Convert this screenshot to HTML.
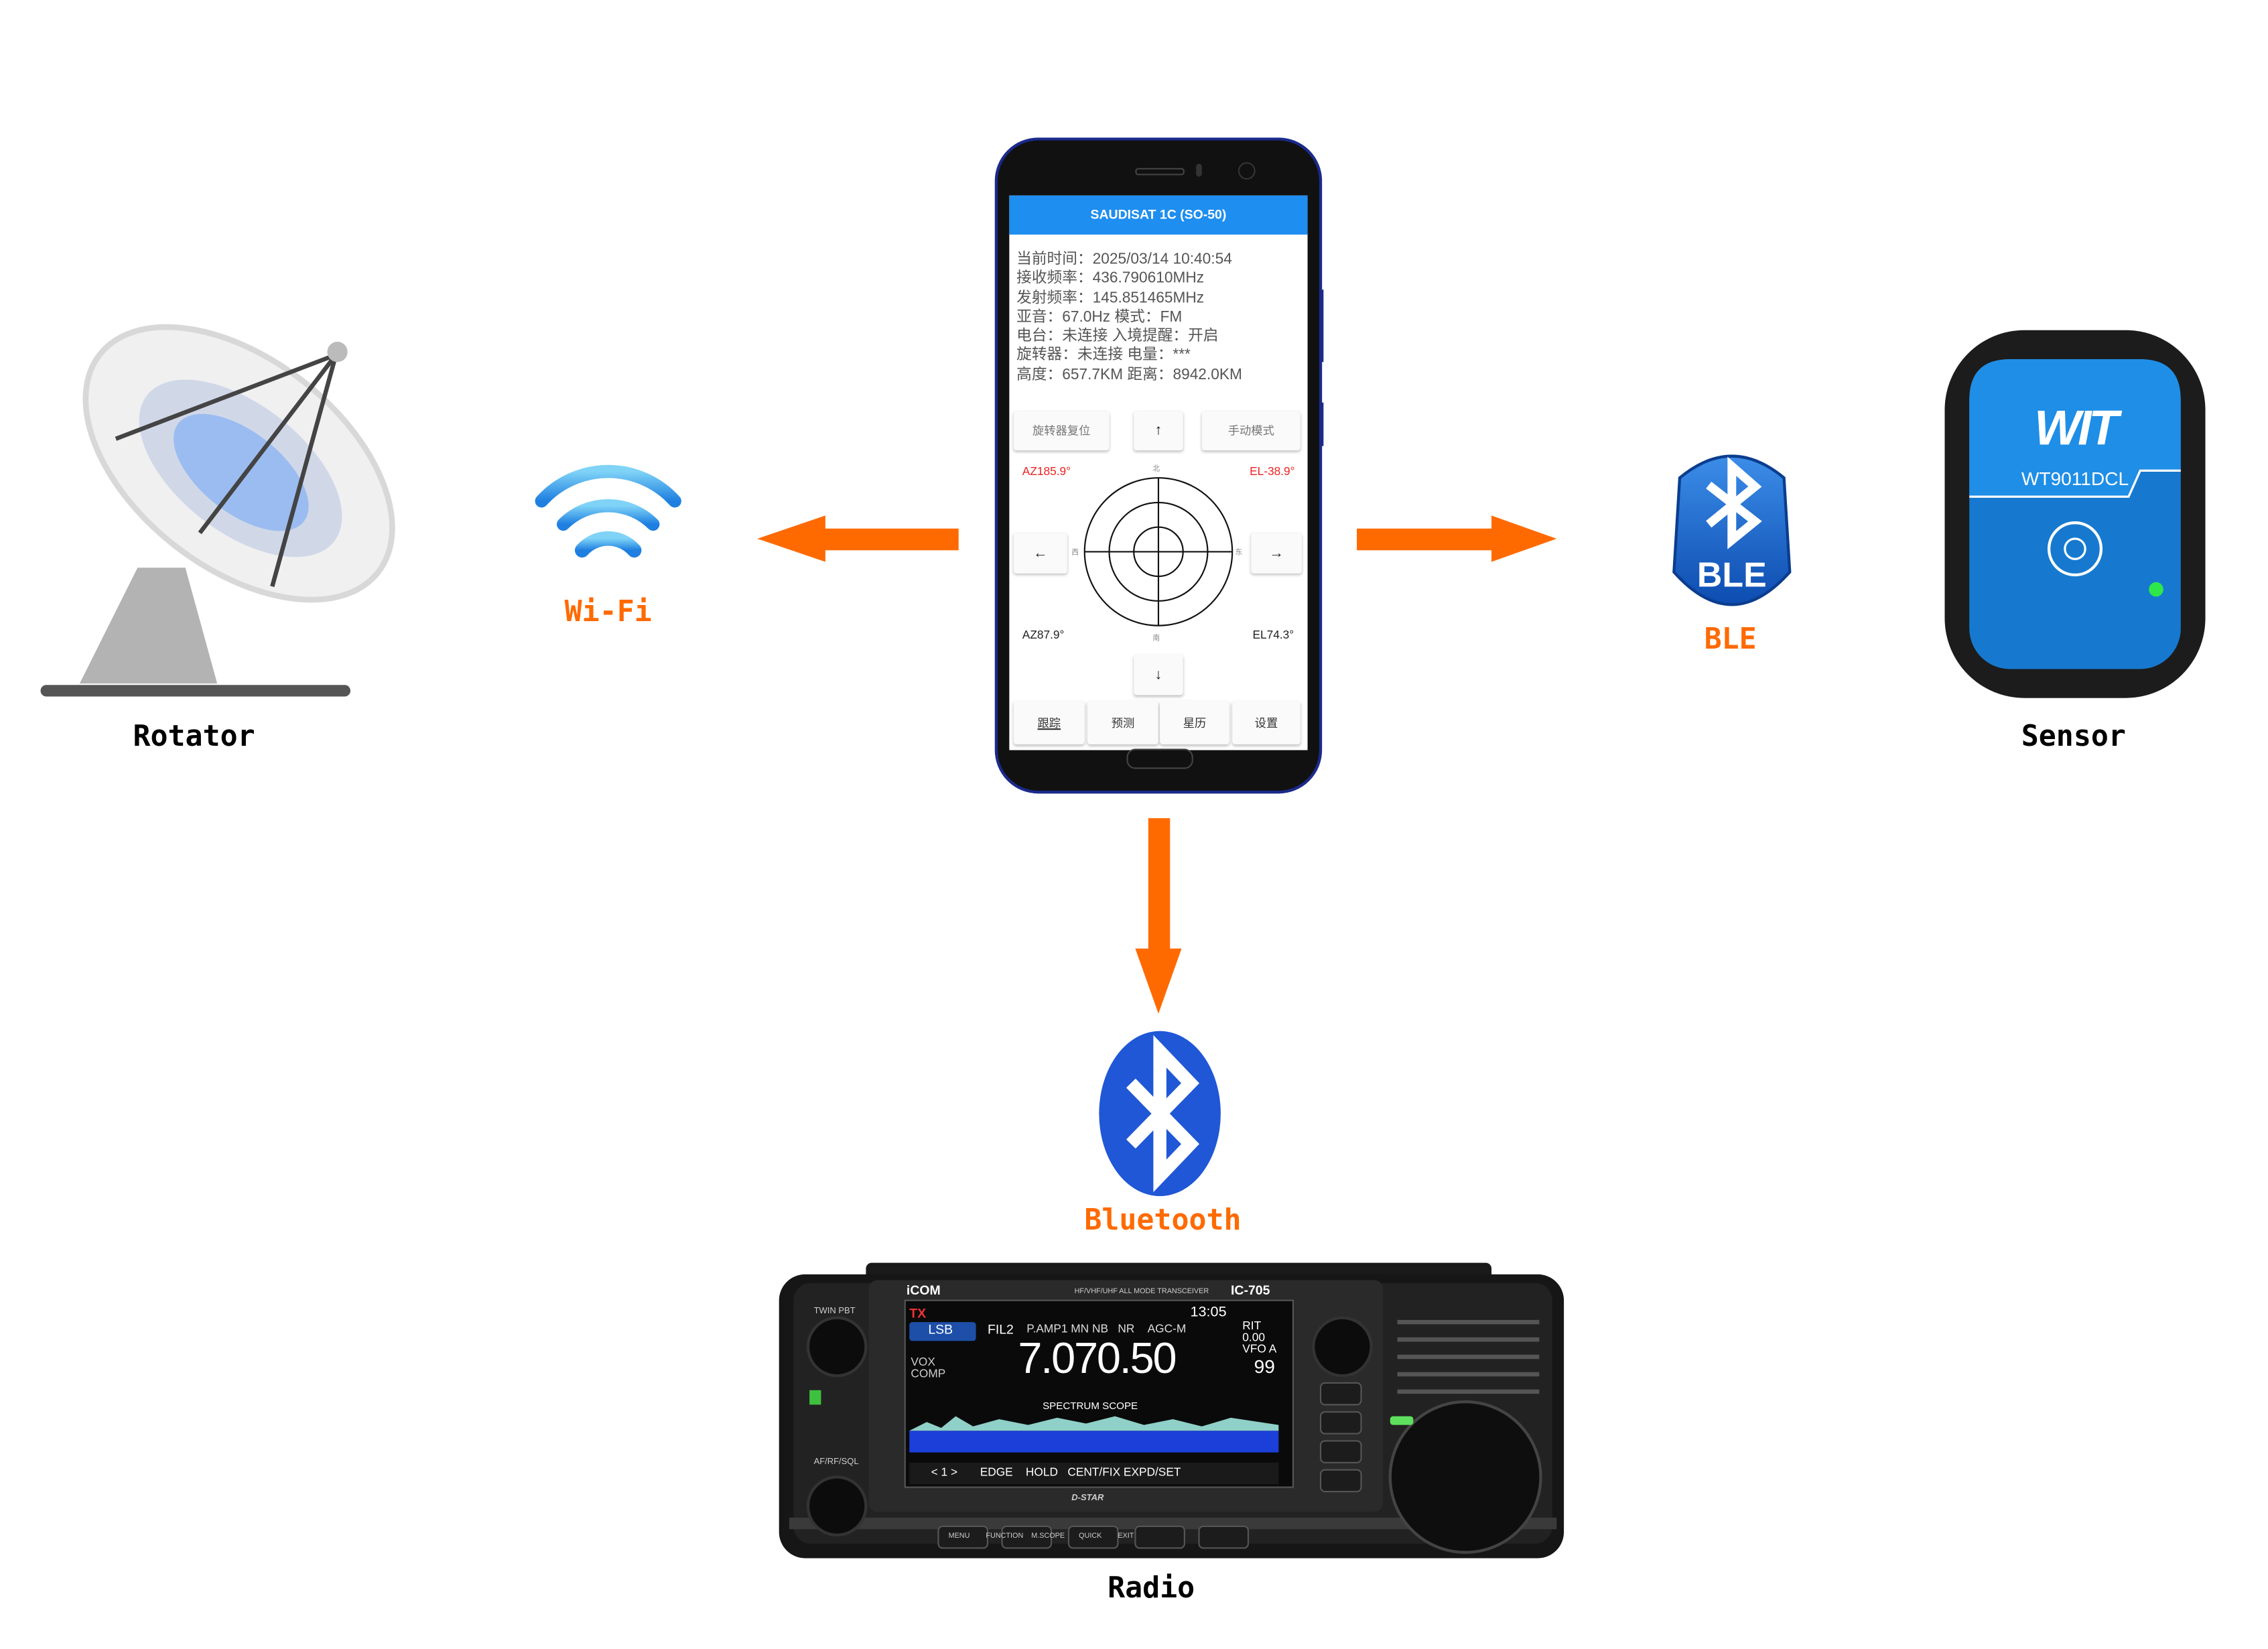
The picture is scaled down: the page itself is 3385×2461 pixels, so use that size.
<!DOCTYPE html>
<html><head><meta charset="utf-8">
<style>
html,body{margin:0;padding:0;background:#fff;}
#wrap{width:3385px;height:2461px;overflow:hidden;position:relative;background:#fff;}
#s{position:absolute;left:0;top:0;width:1570px;height:1140px;transform:scale(2.1612);transform-origin:0 0;}
.t{position:absolute;white-space:nowrap;font-family:"Liberation Sans","Noto Sans CJK SC",sans-serif;}
.m{font-family:"DejaVu Sans Mono","Liberation Mono",monospace;font-size:20px;font-weight:bold;}
.btn{position:absolute;background:#fafafa;box-shadow:0 1px 2px rgba(0,0,0,.25);border-radius:2px;font-size:8px;color:#777;display:flex;align-items:center;justify-content:center;font-family:"Liberation Sans","Noto Sans CJK SC",sans-serif;}
</style></head><body><div id="wrap"><div id="s">

<svg width="1550" height="1127" style="position:absolute;left:0;top:0">
 <g fill="#ff6a00">
  <rect x="566" y="365" width="96" height="15"/>
  <polygon points="523,372 570,356 570,388"/>
  <rect x="937" y="365" width="96" height="15"/>
  <polygon points="1075,372 1030,356 1030,388"/>
  <rect x="793" y="565" width="15" height="94"/>
  <polygon points="800,700 784,655 816,655"/>
 </g>
 <defs><linearGradient id="wg" x1="0" y1="0" x2="0" y2="1"><stop offset="0" stop-color="#7fd3f7"/><stop offset="1" stop-color="#1e7fe0"/></linearGradient>
 <linearGradient id="bg1" x1="0" y1="0" x2="0" y2="1"><stop offset="0" stop-color="#3b8de8"/><stop offset="1" stop-color="#0d4cb0"/></linearGradient></defs>
 <g fill="none" stroke="url(#wg)" stroke-linecap="round">
  <path d="M374 346 A62 62 0 0 1 466 346" stroke-width="9"/>
  <path d="M389 362 A44 44 0 0 1 451 362" stroke-width="9"/>
  <path d="M402 380 A24 24 0 0 1 438 380" stroke-width="10"/>
 </g>
 <polygon points="95,392 128,392 150,472 55,472" fill="#b3b3b3"/>
 <rect x="28" y="473" width="214" height="8" rx="4" fill="#555"/>
 <g transform="rotate(38 165 320)">
  <ellipse cx="165" cy="320" rx="122" ry="72" fill="#f0f0f0" stroke="#d8d8d8" stroke-width="4"/>
  <ellipse cx="168" cy="322" rx="82" ry="44" fill="#d0d8e8"/>
  <ellipse cx="170" cy="324" rx="55" ry="28" fill="#9bbcf0"/>
 </g>
 <g stroke="#444" stroke-width="3" fill="none">
  <line x1="80" y1="303" x2="232" y2="245"/>
  <line x1="138" y1="368" x2="232" y2="245"/>
  <line x1="188" y1="405" x2="232" y2="245"/>
 </g>
 <circle cx="233" cy="243" r="7" fill="#bbb"/>
 <path d="M1160 330 Q1196 300 1232 330 L1236 395 Q1196 440 1156 395 Z" fill="url(#bg1)" stroke="#0b3d8f" stroke-width="2"/>
 <path d="M1180 335 L1212 360 L1196 373 L1196 322 L1212 336 L1180 362" fill="none" stroke="#fff" stroke-width="6"/>
 <ellipse cx="801" cy="769" rx="42" ry="57" fill="#1f57d6"/>
 <path d="M781 748 L822 790 L801 812 L801 726 L822 748 L781 790" fill="none" stroke="#fff" stroke-width="9"/>
 <rect x="1343" y="228" width="180" height="254" rx="55" fill="#1c1c1c"/>
 <rect x="1360" y="248" width="146" height="214" rx="28" fill="#1679cf"/>
 <path d="M1388 248 L1478 248 Q1506 248 1506 276 L1506 325 L1478 325 L1470 343 L1360 343 L1360 276 Q1360 248 1388 248 Z" fill="#1f8ee6"/>
 <path d="M1360 343 L1470 343 L1478 325 L1506 325" fill="none" stroke="#fff" stroke-width="1.5"/>
 <circle cx="1433" cy="379" r="18" fill="none" stroke="#fff" stroke-width="2"/>
 <circle cx="1433" cy="379" r="7" fill="none" stroke="#fff" stroke-width="1.5"/>
 <circle cx="1489" cy="407" r="5" fill="#2ee84a"/>
 <rect x="598" y="872" width="432" height="20" rx="4" fill="#1a1a1a"/>
 <rect x="538" y="880" width="542" height="196" rx="18" fill="#161616"/>
 <rect x="548" y="886" width="524" height="180" rx="12" fill="#222"/>
 <rect x="600" y="884" width="355" height="160" rx="6" fill="#2a2a2a"/>
 <rect x="625" y="898" width="268" height="129" fill="#0a0a0a" stroke="#555"/>
 <rect x="628" y="913" width="46" height="13" rx="2" fill="#1d4fa8"/>
 <rect x="628" y="988" width="255" height="15" fill="#1b3fd8"/>
 <path d="M628 988 L640 982 L650 986 L660 978 L672 985 L690 980 L710 984 L730 979 L750 983 L770 978 L790 984 L810 980 L830 985 L850 979 L883 984 L883 988 Z" fill="#8fd0c8"/>
 <rect x="628" y="1010" width="255" height="15" fill="#1a1a1a"/>
 <rect x="545" y="1048" width="530" height="8" fill="#3a3a3a"/>
 <circle cx="578" cy="930" r="20" fill="#0c0c0c" stroke="#333" stroke-width="2"/>
 <circle cx="578" cy="1040" r="20" fill="#0c0c0c" stroke="#333" stroke-width="2"/>
 <circle cx="927" cy="930" r="20" fill="#0c0c0c" stroke="#333" stroke-width="2"/>
 <circle cx="1012" cy="1020" r="52" fill="#0e0e0e" stroke="#444" stroke-width="2"/>
 <g stroke="#555" stroke-width="3">
  <line x1="965" y1="913" x2="1063" y2="913"/><line x1="965" y1="925" x2="1063" y2="925"/><line x1="965" y1="937" x2="1063" y2="937"/><line x1="965" y1="949" x2="1063" y2="949"/><line x1="965" y1="961" x2="1063" y2="961"/>
 </g>
 <g fill="#1c1c1c" stroke="#555">
  <rect x="648" y="1054" width="34" height="15" rx="3"/><rect x="692" y="1054" width="34" height="15" rx="3"/><rect x="738" y="1054" width="34" height="15" rx="3"/><rect x="784" y="1054" width="34" height="15" rx="3"/><rect x="828" y="1054" width="34" height="15" rx="3"/>
  <rect x="912" y="955" width="28" height="15" rx="3"/><rect x="912" y="975" width="28" height="15" rx="3"/><rect x="912" y="995" width="28" height="15" rx="3"/><rect x="912" y="1015" width="28" height="15" rx="3"/>
 </g>
 <rect x="960" y="978" width="16" height="6" rx="2" fill="#5ee05e"/>
 <rect x="559" y="960" width="8" height="10" fill="#3fc03f"/>
</svg>

<div class="t" style="left:626px;top:886px;font-size:9px;color:#fff;font-weight:bold">iCOM</div>
<div class="t" style="left:742px;top:889px;font-size:5px;color:#ccc">HF/VHF/UHF ALL MODE TRANSCEIVER</div>
<div class="t" style="left:850px;top:886px;font-size:9px;color:#fff;font-weight:bold">IC-705</div>
<div class="t" style="left:628px;top:902px;font-size:9px;color:#e33;font-weight:bold">TX</div>
<div class="t" style="left:822px;top:901px;font-size:10px;color:#fff">13:05</div>
<div class="t" style="left:641px;top:913px;font-size:9px;color:#fff">LSB</div>
<div class="t" style="left:682px;top:913px;font-size:9px;color:#fff">FIL2</div>
<div class="t" style="left:709px;top:913px;font-size:8px;color:#ddd">P.AMP1 MN NB &nbsp;&nbsp;NR &nbsp;&nbsp;&nbsp;AGC-M</div>
<div class="t" style="left:858px;top:912px;font-size:8px;color:#fff;line-height:8px">RIT<br>0.00<br>VFO A</div>
<div class="t" style="left:703px;top:922px;font-size:30px;color:#fff;letter-spacing:-1px">7.070.50</div>
<div class="t" style="left:866px;top:936px;font-size:13px;color:#fff">99</div>
<div class="t" style="left:629px;top:937px;font-size:8px;color:#ccc;line-height:8px">VOX<br>COMP</div>
<div class="t" style="left:720px;top:968px;font-size:7px;color:#fff">SPECTRUM SCOPE</div>
<div class="t" style="left:643px;top:1012px;font-size:8px;color:#fff">&lt; 1 &gt; &nbsp;&nbsp;&nbsp;&nbsp;&nbsp;&nbsp;EDGE &nbsp;&nbsp;&nbsp;HOLD &nbsp;&nbsp;CENT/FIX EXPD/SET</div>
<div class="t" style="left:740px;top:1032px;font-size:6px;color:#ccc;font-weight:bold;font-style:italic">D-STAR</div>
<div class="t" style="left:562px;top:903px;font-size:6px;color:#ccc">TWIN PBT</div>
<div class="t" style="left:562px;top:1007px;font-size:6px;color:#ccc">AF/RF/SQL</div>
<div class="t" style="left:655px;top:1058px;font-size:5px;color:#ccc">MENU &nbsp;&nbsp;&nbsp;&nbsp;&nbsp;&nbsp;&nbsp;FUNCTION &nbsp;&nbsp;&nbsp;M.SCOPE &nbsp;&nbsp;&nbsp;&nbsp;&nbsp;&nbsp;QUICK &nbsp;&nbsp;&nbsp;&nbsp;&nbsp;&nbsp;&nbsp;EXIT</div>

<div style="position:absolute;left:687px;top:95px;width:222px;height:449px;border-radius:30px;background:#111;border:2px solid #1b2a8a;"></div>
<div style="position:absolute;left:784px;top:116px;width:32px;height:3px;border-radius:2px;border:1px solid #444;"></div>
<div style="position:absolute;left:826px;top:113px;width:4px;height:9px;border-radius:2px;background:#333;"></div>
<div style="position:absolute;left:855px;top:112px;width:10px;height:10px;border-radius:50%;border:1px solid #333;"></div>
<div style="position:absolute;left:697px;top:135px;width:206px;height:383px;background:#fff;"></div>
<div style="position:absolute;left:697px;top:135px;width:206px;height:27px;background:#1e8ef0;"></div>
<div class="t" style="left:697px;top:143px;width:206px;text-align:center;font-size:9px;color:#fff;font-weight:bold">SAUDISAT 1C (SO-50)</div>
<div class="t" style="left:702px;top:173px;font-size:10.5px;color:#555;line-height:13.3px">当前时间：2025/03/14 10:40:54<br>接收频率：436.790610MHz<br>发射频率：145.851465MHz<br>亚音：67.0Hz 模式：FM<br>电台：未连接 入境提醒：开启<br>旋转器：未连接 电量：***<br>高度：657.7KM 距离：8942.0KM</div>
<div class="btn" style="left:700px;top:284px;width:66px;height:27px">旋转器复位</div>
<div class="btn" style="left:783px;top:284px;width:34px;height:27px;color:#222;font-size:10px">↑</div>
<div class="btn" style="left:830px;top:284px;width:68px;height:27px">手动模式</div>
<div class="btn" style="left:700px;top:368px;width:37px;height:28px;color:#222;font-size:10px">←</div>
<div class="btn" style="left:864px;top:368px;width:35px;height:28px;color:#222;font-size:10px">→</div>
<div class="btn" style="left:783px;top:452px;width:34px;height:28px;color:#222;font-size:10px">↓</div>
<div class="btn" style="left:700px;top:484px;width:49px;height:30px;color:#333;text-decoration:underline">跟踪</div>
<div class="btn" style="left:751px;top:484px;width:49px;height:30px;color:#333">预测</div>
<div class="btn" style="left:801px;top:484px;width:48px;height:30px;color:#333">星历</div>
<div class="btn" style="left:851px;top:484px;width:47px;height:30px;color:#333">设置</div>
<div class="t" style="left:706px;top:321px;font-size:8px;color:#e22">AZ185.9°</div>
<div class="t" style="left:863px;top:321px;font-size:8px;color:#e22">EL-38.9°</div>
<div class="t" style="left:706px;top:434px;font-size:8px;color:#222">AZ87.9°</div>
<div class="t" style="left:865px;top:434px;font-size:8px;color:#222">EL74.3°</div>
<svg width="130" height="130" style="position:absolute;left:735px;top:316px">
 <g fill="none" stroke="#111" stroke-width="1">
  <circle cx="65" cy="65" r="51"/><circle cx="65" cy="65" r="34"/><circle cx="65" cy="65" r="17"/>
  <line x1="14" y1="65" x2="116" y2="65"/><line x1="65" y1="14" x2="65" y2="116"/>
 </g>
</svg>
<div class="t" style="left:796px;top:320px;font-size:5px;color:#888">北</div>
<div class="t" style="left:796px;top:437px;font-size:5px;color:#888">南</div>
<div class="t" style="left:740px;top:378px;font-size:5px;color:#888">西</div>
<div class="t" style="left:853px;top:378px;font-size:5px;color:#888">东</div>
<div style="position:absolute;left:778px;top:517px;width:44px;height:12px;border-radius:6px;border:1px solid #444;"></div>
<div style="position:absolute;left:911px;top:200px;width:3px;height:50px;background:#1b2a8a"></div>
<div style="position:absolute;left:911px;top:278px;width:3px;height:30px;background:#1b2a8a"></div>

<div class="t" style="left:1383px;top:277px;font-size:34px;color:#fff;font-weight:bold;font-style:italic;letter-spacing:-2px;width:100px;text-align:center">WIT</div>
<div class="t" style="left:1380px;top:323px;width:106px;text-align:center;font-size:13px;color:#fff">WT9011DCL</div>
<div class="t" style="left:1160px;top:384px;width:72px;text-align:center;font-size:24px;color:#fff;font-weight:bold">BLE</div>

<div class="t m" style="left:34px;top:496px;width:200px;text-align:center;color:#000">Rotator</div>
<div class="t m" style="left:340px;top:410px;width:160px;text-align:center;color:#ff6a00">Wi-Fi</div>
<div class="t m" style="left:1115px;top:429px;width:160px;text-align:center;color:#ff6a00">BLE</div>
<div class="t m" style="left:1352px;top:496px;width:160px;text-align:center;color:#000">Sensor</div>
<div class="t m" style="left:703px;top:830px;width:200px;text-align:center;color:#ff6a00">Bluetooth</div>
<div class="t m" style="left:695px;top:1084px;width:200px;text-align:center;color:#000">Radio</div>

</div></div></body></html>
